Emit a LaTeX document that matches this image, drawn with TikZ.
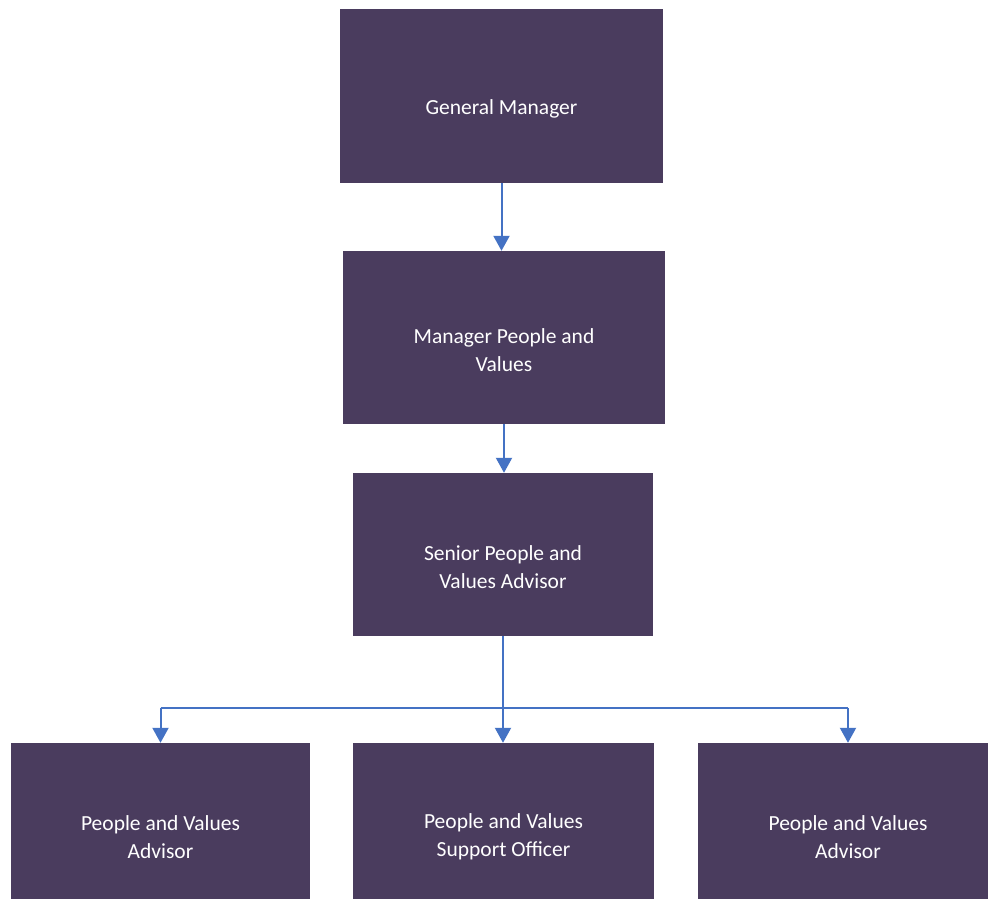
\documentclass[tikz,border=0pt]{standalone}
\usepackage{fontspec}
\setmainfont{Carlito}
\usetikzlibrary{arrows.meta}
\definecolor{boxfill}{HTML}{4A3C5E}
\definecolor{arrowblue}{HTML}{4472C4}
\begin{document}
\begin{tikzpicture}[x=1pt,y=1pt,
  box/.style={rectangle,fill=boxfill,draw=none,inner sep=0pt},
  lbl/.style={text=white,align=center,font=\fontsize{21.5}{28}\selectfont},
  arr/.style={draw=arrowblue,line width=2pt,-{Triangle[width=16pt,length=15pt]}},
  bar/.style={draw=arrowblue,line width=2pt}]
\useasboundingbox (0,0) rectangle (988,899);
\clip (0,0) rectangle (988,899);
\fill[white] (0,0) rectangle (988,899);
\node[box,minimum width=323pt,minimum height=174pt] (gm) at (501.5,803) {};
\node[box,minimum width=322pt,minimum height=173pt] (mpv) at (504,561.5) {};
\node[box,minimum width=300pt,minimum height=163pt] (spva) at (503,344.5) {};
\node[box,minimum width=299pt,minimum height=162pt] (pva1) at (160.5,75) {};
\node[box,minimum width=301pt,minimum height=162pt] (pva2) at (503.5,75) {};
\node[box,minimum width=300pt,minimum height=162pt] (pva3) at (848,75) {};
\node[lbl] (gmt) at ([yshift=-13pt]gm.center) {General Manager};
\node[lbl] (mpvt) at ([yshift=-13pt]mpv.center) {Manager People and\\Values};
\node[lbl] (spvat) at ([yshift=-13pt]spva.center) {Senior People and\\Values Advisor};
\node[lbl] (pva1t) at ([yshift=-13pt]pva1.center) {People and Values\\Advisor};
\node[lbl] (pva2t) at ([yshift=-13pt]pva2.center) {People and Values\\Support Officer};
\node[lbl] (pva3t) at ([yshift=-13pt]pva3.center) {People and Values\\Advisor};
\coordinate (bus) at (503,191);
\draw[arr] (gm.south) -- (gm.south |- mpv.north);
\draw[arr] (mpv.south) -- (mpv.south |- spva.north);
\draw[arr] (spva.south) -- (spva.south |- pva2.north);
\draw[bar] (pva1.north |- bus) -- (pva3.north |- bus);
\draw[arr] (pva1.north |- bus) -- (pva1.north);
\draw[arr] (pva3.north |- bus) -- (pva3.north);
\end{tikzpicture}
\end{document}
